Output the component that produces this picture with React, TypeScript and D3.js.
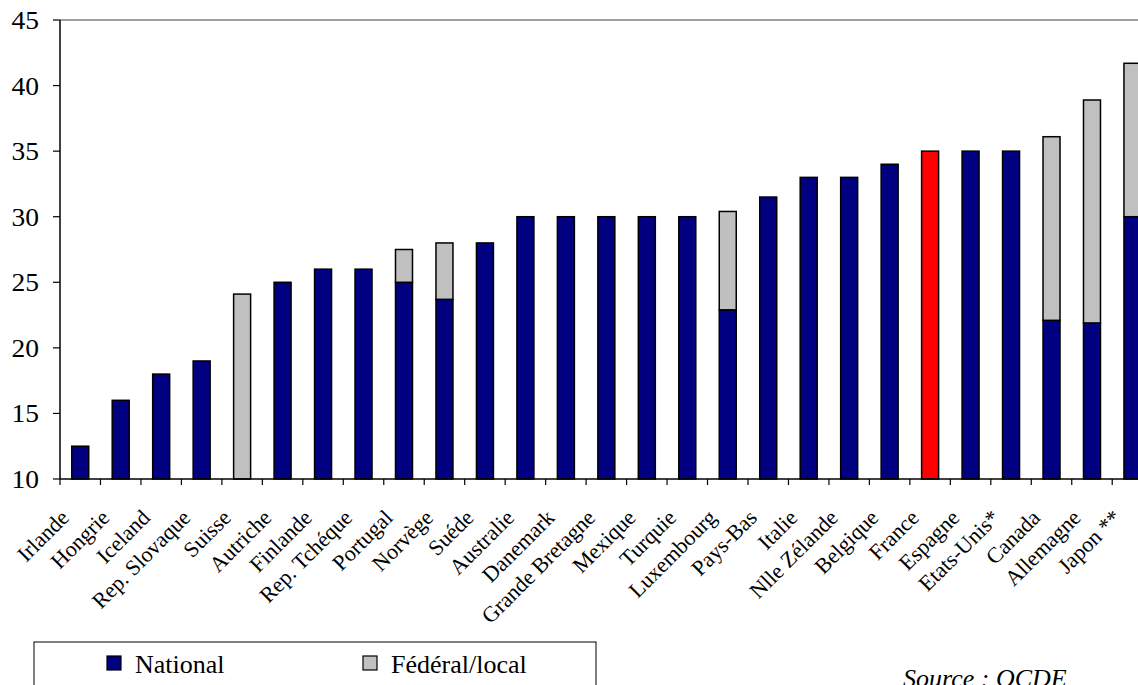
import React from "react";
import * as d3 from "d3";

// Corporate tax rate by country (%), split into national and federal/local parts
const categories = [
  "Irlande", "Hongrie", "Iceland", "Rep. Slovaque", "Suisse", "Autriche", "Finlande",
  "Rep. Tchéque", "Portugal", "Norvège", "Suéde", "Australie", "Danemark",
  "Grande Bretagne", "Mexique", "Turquie", "Luxembourg", "Pays-Bas", "Italie",
  "Nlle Zélande", "Belgique", "France", "Espagne", "Etats-Unis*", "Canada",
  "Allemagne", "Japon **",
];
const national = [
  12.5, 16, 18, 19, 8.5, 25, 26, 26, 25, 23.7, 28, 30, 30, 30, 30, 30, 22.9, 31.5, 33,
  33, 34, 35, 35, 35, 22.1, 21.9, 30,
];
const federalLocal = [
  0, 0, 0, 0, 15.6, 0, 0, 0, 2.5, 4.3, 0, 0, 0, 0, 0, 0, 7.5, 0, 0, 0, 0, 0, 0, 0, 14,
  17, 11.7,
];
const yTicks = [10, 15, 20, 25, 30, 35, 40, 45];
const highlighted = "France";

const W = 1138;
const H = 685;
const FONT = "Liberation Serif, Times New Roman, serif";
const NAVY = "#000080";
const GREY = "#C0C0C0";
const RED = "#FF0000";

export default function App() {
  const left = 60;
  const step = 40.47;
  const plotRight = left + step * categories.length;
  const top = 20;
  const bottom = 479;

  const x = d3
    .scaleBand<string>()
    .domain(categories)
    .range([left, plotRight])
    .paddingInner(0.58)
    .paddingOuter(0.29);
  const y = d3.scaleLinear().domain([10, 45]).range([bottom, top]);
  const yc = (v: number) => y(Math.max(10, v));

  const bw = x.bandwidth();
  const txt = { fontFamily: FONT };

  return (
    <svg
      width={W}
      height={H}
      style={{ position: "absolute", left: 0, top: 0, overflow: "hidden", background: "#fff", fontFamily: FONT }}
    >
      {/* top frame line */}
      <line x1={left} x2={W + 20} y1={top} y2={top} stroke="#808080" strokeWidth={1.5} />

      {/* bars */}
      {categories.map((c, i) => {
        const x0 = x(c)!;
        const n = national[i];
        const f = federalLocal[i];
        const isHi = c === highlighted;
        return (
          <g key={c}>
            {n > 10 && (
              <rect
                x={x0}
                y={yc(n)}
                width={bw}
                height={yc(10) - yc(n)}
                fill={isHi ? RED : NAVY}
                stroke="#000"
                strokeWidth={1.5}
              />
            )}
            {f > 0 && (
              <rect
                x={x0}
                y={yc(n + f)}
                width={bw}
                height={yc(n) - yc(n + f)}
                fill={GREY}
                stroke="#000"
                strokeWidth={1.5}
              />
            )}
          </g>
        );
      })}

      {/* y axis */}
      <line x1={left} x2={left} y1={top} y2={bottom} stroke="#000" strokeWidth={1.5} />
      {yTicks.map((t) => (
        <g key={t}>
          <line x1={left - 7} x2={left} y1={y(t)} y2={y(t)} stroke="#000" strokeWidth={1.2} />
          <text
            transform={`translate(39,${y(t) + 9}) scale(1.1,1)`}
            textAnchor="end"
            fontSize={25}
            fill="#000"
            style={txt}
          >
            {t}
          </text>
        </g>
      ))}

      {/* x axis */}
      <line x1={left} x2={W + 20} y1={bottom} y2={bottom} stroke="#000" strokeWidth={1.5} />
      {categories.map((c, i) => {
        const bx = left + step * i;
        return <line key={c} x1={bx} x2={bx} y1={bottom} y2={bottom + 6} stroke="#000" strokeWidth={1.2} />;
      })}
      {categories.map((c) => {
        const cx = x(c)! + bw / 2;
        return (
          <text
            key={c}
            transform={`translate(${cx - 10},${519}) rotate(-45)`}
            textAnchor="end"
            fontSize={22}
            fill="#000"
            style={txt}
          >
            {c}
          </text>
        );
      })}

      {/* legend */}
      <rect x={34} y={642} width={562} height={70} fill="#fff" stroke="#000" strokeWidth={1} />
      <rect x={107} y={656} width={14} height={14} fill={NAVY} stroke="#000" strokeWidth={1.2} />
      <text x={135} y={673} fontSize={26} fill="#000" style={txt}>National</text>
      <rect x={363} y={656} width={14} height={14} fill={GREY} stroke="#000" strokeWidth={1.2} />
      <text x={391} y={673} fontSize={26} fill="#000" style={txt}>Fédéral/local</text>

      {/* source note */}
      <text x={903} y={687} fontSize={26} fontStyle="italic" fill="#000" style={txt}>
        Source : OCDE
      </text>
    </svg>
  );
}
